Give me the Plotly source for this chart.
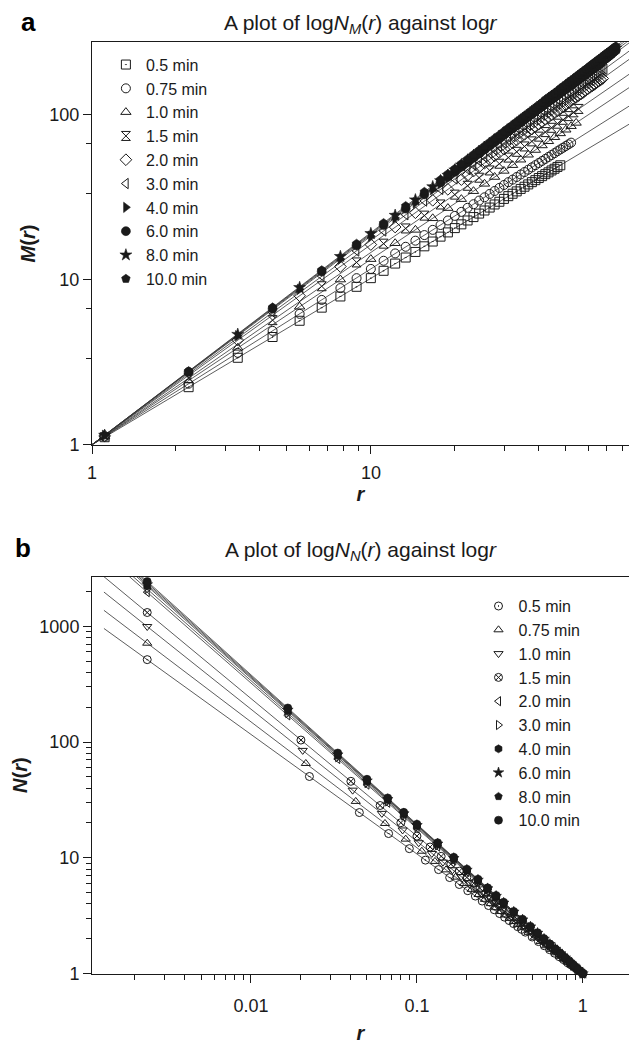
import numpy as np
import plotly.graph_objects as go

# ---------------- data ----------------
labels = ["0.5 min", "0.75 min", "1.0 min", "1.5 min", "2.0 min",
          "3.0 min", "4.0 min", "6.0 min", "8.0 min", "10.0 min"]

# Panel a : M(r) against r
a_r = [1.11, 2.22, 3.33, 4.44, 5.55, 6.66, 7.77, 8.88, 9.99, 11.1, 12.21, 13.32,
       14.43, 15.54, 16.65, 17.76, 18.87, 19.98, 21.09, 22.2, 23.31, 24.42, 25.53,
       26.64, 27.75, 28.86, 29.97, 31.08, 32.19, 33.3, 34.41, 35.52, 36.63, 37.74,
       38.85, 39.96, 41.07, 42.18, 43.29, 44.4, 45.51, 46.62, 47.73, 48.84, 49.95,
       51.06, 52.17, 53.28, 54.39, 55.5, 56.61, 57.72, 58.83, 59.94, 61.05, 62.16,
       63.27, 64.38, 65.49, 66.6, 67.71, 68.82, 69.93, 71.04, 72.15, 73.26, 74.37, 75.48]

a_M_05 = [1.11, 2.23, 3.36, 4.49, 5.63, 6.76, 7.90, 9.04, 10.2, 11.3, 12.5, 13.6, 14.7,
          15.9, 17.0, 18.2, 19.3, 20.5, 21.6, 22.8, 23.9, 25.1, 26.2, 27.3, 28.5, 29.6,
          30.8, 32.0, 33.1, 34.2, 35.4, 36.5, 37.7, 38.9, 40.0, 41.2, 42.3, 43.5, 44.6,
          45.8, 46.9, 48.1, 49.2]
a_M_075 = [1.12, 2.34, 3.60, 4.89, 6.20, 7.53, 8.88, 10.2, 11.6, 13.0, 14.4, 15.8, 17.2,
           18.6, 20.0, 21.4, 22.8, 24.3, 25.7, 27.2, 28.6, 30.1, 31.5, 33.0, 34.4, 35.9,
           37.4, 38.9, 40.3, 41.8, 43.3, 44.8, 46.3, 47.8, 49.3, 50.8, 52.3, 53.8, 55.3,
           56.8, 58.3, 59.9, 61.4, 62.9, 64.4, 65.9, 67.5]
a_M_10 = [1.12, 3.86, 6.85, 10.0, 13.3, 16.6, 20.0, 23.5, 27.1, 30.7, 34.3, 38.0, 41.8,
          45.5, 49.3, 53.2, 57.0, 60.9, 64.9, 68.8, 72.8, 76.8, 80.8, 84.9, 88.9]
a_M_15 = [2.53, 5.68, 9.11, 12.7, 16.5, 20.4, 24.4, 28.5, 32.7, 37.0, 41.4, 45.8, 50.3,
          54.8, 59.4, 64.0, 68.7, 73.4, 78.2, 83.0, 87.9, 92.8, 97.7, 103, 108]
a_M_20 = [1.13, 4.30, 7.98, 12.0, 16.3, 20.8, 25.4, 30.2, 35.2, 40.3, 45.4, 50.7, 56.1,
          61.6, 67.2, 72.9, 78.6, 84.4, 90.3, 96.2, 102, 108, 114, 121, 127, 133, 140,
          146, 152, 159, 165]
a_M_20b = [42.8, 48.1, 53.4, 58.9, 64.4, 70.0, 75.7, 81.5, 87.3, 93.3, 99.2, 105, 111,
           118, 124, 130, 136, 143, 149, 156, 162]
a_M_30 = [2.68, 6.33, 10.5, 14.9, 19.7, 24.7, 29.9, 35.2, 40.7, 46.4, 52.2, 58.2, 64.2,
          70.4, 76.7, 83.1, 89.5, 96.1, 103, 110, 116, 123, 130, 137, 144, 152, 159, 166,
          173, 181, 188]
a_M_30b = [49.3, 55.2, 61.2, 67.3, 73.6, 79.9, 86.3, 92.8, 99.5, 106, 113, 120, 127, 134,
           141, 148, 155, 162, 170, 177, 185]
a_M_40 = [1.14, 4.57, 8.73, 13.3, 18.3, 23.6, 29.2, 35.0, 41.0, 47.2, 53.5, 60.1, 66.7,
          73.5, 80.5, 87.6, 94.8, 102, 110, 117, 125, 132, 140, 148, 156, 164, 172, 181,
          189, 198, 206, 215, 223]
a_M_40b = [38.0, 44.1, 50.3, 56.8, 63.4, 70.1, 77.0, 84.0, 91.2, 98.4, 106, 113, 121,
           128.5, 136, 144, 152, 160, 168, 177, 185, 193, 202, 210, 219, 228]
a_M_60 = [2.76, 6.66, 11.2, 16.1, 21.4, 26.9, 32.8, 38.8, 45.1, 51.6, 58.2, 65.1, 72.0,
          79.1, 86.4, 93.8, 101, 109, 117, 125, 133, 141, 149, 157, 165, 174, 182, 191,
          200, 209, 218, 227, 236, 245]
a_M_60b = [42.0, 48.4, 54.9, 61.6, 68.5, 75.6, 82.8, 90.1, 97.5, 105, 113, 121, 129, 137,
           145, 153, 161, 170, 178, 187, 195.5, 204, 213, 222, 231, 240]
a_M_80 = [1.14, 4.66, 8.95, 13.8, 19.0, 24.5, 30.4, 36.5, 42.8, 49.4, 56.1, 63.0, 70.1,
          77.4, 84.8, 92.3, 100, 108, 116, 124, 132, 140, 149, 157, 166, 175, 183, 192,
          201, 210, 219, 229, 238, 247]
a_M_80b = [39.7, 46.1, 52.7, 59.6, 66.6, 73.8, 81.1, 88.6, 96.2, 104, 112, 120, 128, 136,
           144.5, 153, 162, 170, 179, 188, 197, 206, 215, 224, 233, 243, 252]
a_M_100 = [2.79, 6.79, 11.4, 16.5, 22.0, 27.9, 34.0, 40.3, 46.9, 53.7, 60.7, 67.9, 75.2,
           82.8, 90.4, 98.3, 106, 114, 123, 131, 139, 148, 157, 165, 174, 183, 192, 202,
           211, 220, 230, 239, 249, 259]
a_M_100b = [43.6, 50.3, 57.2, 64.3, 71.6, 79.0, 86.6, 94.3, 102, 110, 118, 127, 135, 144,
            152, 161, 170, 179, 188, 197, 206, 216, 225, 235, 244, 254]

# Panel b : N(r) against r
b_r_05 = [0.00237, 0.0225, 0.045, 0.0675, 0.09, 0.1125, 0.135, 0.1575, 0.18, 0.2025,
          0.225, 0.2475, 0.27, 0.2925, 0.315, 0.3375, 0.36, 0.3825, 0.405, 0.4275, 0.45,
          0.495, 0.54, 0.585, 0.63, 0.675, 0.72, 0.765, 0.81, 0.855, 0.9, 0.945, 0.99]
b_N_05 = [515, 50.4, 24.6, 16.2, 12.0, 9.55, 7.91, 6.75, 5.88, 5.20, 4.67, 4.23, 3.87,
          3.56, 3.30, 3.07, 2.87, 2.70, 2.54, 2.41, 2.28, 2.07, 1.89, 1.74, 1.61, 1.50,
          1.40, 1.32, 1.24, 1.18, 1.12, 1.06, 1.01]
b_r_075 = [0.00237, 0.0214, 0.0428, 0.0642, 0.0856, 0.107, 0.1284, 0.1498, 0.1712,
           0.1926, 0.214, 0.2354, 0.2568, 0.2782, 0.2996, 0.321, 0.3424, 0.3638, 0.3852,
           0.4066, 0.428, 0.4708, 0.5136, 0.5564, 0.5992, 0.642, 0.6848, 0.7276, 0.7704,
           0.8132, 0.856, 0.8988, 0.9416, 0.9844]
b_N_075 = [714, 65.3, 30.7, 19.8, 14.5, 11.4, 9.31, 7.87, 6.81, 5.99, 5.34, 4.82, 4.38,
           4.02, 3.71, 3.44, 3.21, 3.00, 2.82, 2.66, 2.52, 2.27, 2.06, 1.89, 1.74, 1.62,
           1.51, 1.41, 1.33, 1.25, 1.18, 1.12, 1.07, 1.02]
b_r_10 = [0.00237, 0.0205, 0.041, 0.0615, 0.082, 0.1025, 0.123, 0.1435, 0.164, 0.1845,
          0.205, 0.2255, 0.246, 0.2665, 0.287, 0.3075, 0.328, 0.369, 0.41, 0.451, 0.492,
          0.533, 0.574, 0.615, 0.656, 0.697, 0.738, 0.779, 0.82, 0.861, 0.902, 0.943, 0.984]
b_N_10 = [995, 84.7, 38.4, 24.2, 17.4, 13.5, 10.9, 9.18, 7.88, 6.89, 6.11, 5.48, 4.96,
          4.53, 4.16, 3.85, 3.57, 3.12, 2.77, 2.48, 2.25, 2.05, 1.89, 1.74, 1.62, 1.51,
          1.41, 1.33, 1.25, 1.19, 1.13, 1.07, 1.02]
b_r_15 = [0.00237, 0.02, 0.04, 0.06, 0.08, 0.1, 0.12, 0.14, 0.16, 0.18, 0.2, 0.22, 0.24,
          0.26, 0.28, 0.3, 0.32, 0.36, 0.4, 0.44, 0.48, 0.52, 0.56, 0.6, 0.64, 0.68, 0.72,
          0.76, 0.8, 0.84, 0.88, 0.92, 0.96, 1.0]
b_N_15 = [1315, 104, 45.8, 28.3, 20.1, 15.4, 12.4, 10.3, 8.82, 7.67, 6.77, 6.04, 5.45,
          4.95, 4.54, 4.18, 3.87, 3.37, 2.97, 2.65, 2.39, 2.17, 1.99, 1.83, 1.70, 1.58,
          1.48, 1.39, 1.30, 1.23, 1.16, 1.10, 1.05, 1.00]
b_r_dark = [0.00237, 0.01667, 0.03333, 0.05, 0.06667, 0.08333, 0.1, 0.1333, 0.1667, 0.2,
            0.2333, 0.2667, 0.3, 0.3333, 0.3833, 0.4333, 0.4833, 0.5333, 0.5833, 0.6333,
            0.6833, 0.7333, 0.7833, 0.8333, 0.8833, 0.9333, 1.0]
b_N_20 = [1972, 170, 71.4, 42.9, 29.9, 22.6, 18.0, 12.5, 9.48, 7.54, 6.21, 5.25, 4.53,
          3.97, 3.33, 2.86, 2.49, 2.20, 1.97, 1.77, 1.61, 1.48, 1.36, 1.26, 1.17, 1.09, 1.00]
b_N_30 = [2094, 178, 73.9, 44.2, 30.7, 23.2, 18.4, 12.8, 9.65, 7.66, 6.30, 5.32, 4.59,
          4.01, 3.36, 2.88, 2.51, 2.21, 1.98, 1.78, 1.62, 1.48, 1.36, 1.26, 1.17, 1.09, 1.00]
b_N_40 = [2225, 185, 76.4, 45.6, 31.6, 23.8, 18.8, 13.1, 9.82, 7.79, 6.39, 5.39, 4.64,
          4.06, 3.40, 2.90, 2.53, 2.23, 1.99, 1.79, 1.63, 1.49, 1.37, 1.26, 1.17, 1.09, 1.00]
b_N_60 = [2293, 189, 77.8, 46.3, 32.0, 24.1, 19.1, 13.2, 9.91, 7.85, 6.44, 5.43, 4.67,
          4.08, 3.41, 2.92, 2.54, 2.24, 1.99, 1.79, 1.63, 1.49, 1.37, 1.26, 1.17, 1.09, 1.00]
b_N_80 = [2363, 193, 79.1, 47.0, 32.5, 24.4, 19.3, 13.3, 10.0, 7.91, 6.49, 5.47, 4.70,
          4.10, 3.43, 2.93, 2.55, 2.24, 2.00, 1.80, 1.63, 1.49, 1.37, 1.26, 1.17, 1.09, 1.00]
b_N_100 = [2435, 197, 80.4, 47.7, 32.9, 24.7, 19.5, 13.5, 10.1, 7.98, 6.53, 5.50, 4.73,
           4.13, 3.44, 2.94, 2.55, 2.25, 2.00, 1.80, 1.63, 1.49, 1.37, 1.27, 1.17, 1.09, 1.00]

# extent of the fitted regression lines
a_fit_span = [1.0, 100.0]
b_fit_span = [0.0013, 1.0]

# tick labels
a_xticks, a_xtext = [1, 10], ["1", "10"]
a_yticks, a_ytext = [1, 10, 100], ["1", "10", "100"]
b_xticks, b_xtext = [0.01, 0.1, 1], ["0.01", "0.1", "1"]
b_yticks, b_ytext = [1, 10, 100, 1000], ["1", "10", "100", "1000"]
a_xminor = [2, 3, 4, 5, 6, 7, 8, 9, 20, 30, 40, 50, 60, 70, 80]
a_yminor = [3.333, 6.667, 33.33, 66.67]
b_xminor = [0.002, 0.003, 0.004, 0.005, 0.006, 0.007, 0.008, 0.009,
            0.02, 0.03, 0.04, 0.05, 0.06, 0.07, 0.08, 0.09,
            0.2, 0.3, 0.4, 0.5, 0.6, 0.7, 0.8, 0.9]
b_yminor = [2, 3, 4, 5, 6, 7, 8, 9, 20, 30, 40, 50, 60, 70, 80, 90,
            200, 300, 400, 500, 600, 700, 800, 900, 2000]

# ---------------- styling ----------------
FONT = "Arial, 'Liberation Sans', Helvetica, sans-serif"
INK = "#1a1a1a"
W, H = 629, 1044


def pts(*pairs):
    """Pair each value list with its r list and merge them, sorted by r."""
    xs, ys = [], []
    for rr, vv in pairs:
        xs += list(rr[:len(vv)])
        ys += list(vv)
    order = np.argsort(xs)
    return [xs[i] for i in order], [ys[i] for i in order]


a_sets = [
    (pts((a_r, a_M_05)), "square-open-dot"),
    (pts((a_r, a_M_075)), "circle-open"),
    (pts((a_r[0::2], a_M_10)), "triangle-up-open"),
    (pts((a_r[1::2], a_M_15)), "hourglass-open"),
    (pts((a_r[0::2], a_M_20), (a_r[19::2], a_M_20b)), "diamond-open"),
    (pts((a_r[1::2], a_M_30), (a_r[20::2], a_M_30b)), "triangle-left-open"),
    (pts((a_r[0::2], a_M_40), (a_r[15::2], a_M_40b)), "triangle-right"),
    (pts((a_r[1::2], a_M_60), (a_r[16::2], a_M_60b)), "circle"),
    (pts((a_r[0::2], a_M_80), (a_r[15::2], a_M_80b)), "star"),
    (pts((a_r[1::2], a_M_100), (a_r[16::2], a_M_100b)), "pentagon"),
]
b_sets = [
    (pts((b_r_05, b_N_05)), "circle-open-dot"),
    (pts((b_r_075, b_N_075)), "triangle-up-open"),
    (pts((b_r_10, b_N_10)), "triangle-down-open"),
    (pts((b_r_15, b_N_15)), "circle-x-open"),
    (pts((b_r_dark, b_N_20)), "triangle-left-open"),
    (pts((b_r_dark, b_N_30)), "triangle-right-open"),
    (pts((b_r_dark, b_N_40)), "hexagon"),
    (pts((b_r_dark, b_N_60)), "star"),
    (pts((b_r_dark, b_N_80)), "pentagon"),
    (pts((b_r_dark, b_N_100)), "circle"),
]

fig = go.Figure()


def add_panel(sets, span, xa, ya, legend, msize):
    # regression lines (log-log least squares of each series)
    for (x, y), _ in sets:
        k, c = np.polyfit(np.log10(x), np.log10(y), 1)
        lx = np.asarray(span, dtype=float)
        fig.add_trace(go.Scatter(
            x=lx, y=10 ** (c + k * np.log10(lx)), mode="lines",
            line=dict(color="#333333", width=0.8), showlegend=False,
            hoverinfo="skip", xaxis=xa, yaxis=ya))
    # data markers
    for lab, ((x, y), sym) in zip(labels, sets):
        filled = not sym.endswith(("open", "open-dot"))
        fig.add_trace(go.Scatter(
            x=x, y=y, mode="markers", name=lab, legend=legend,
            marker=dict(symbol=sym, size=msize, color=INK,
                        line=dict(color=INK, width=0.6 if filled else 1)),
            cliponaxis=False, xaxis=xa, yaxis=ya))


add_panel(a_sets, a_fit_span, "x", "y", "legend", 9)
add_panel(b_sets, b_fit_span, "x2", "y2", "legend2", 8)

X0 = 87.7 / W


def axis(domain, rng, tickvals, ticktext, minor, anchor, title, standoff, mirror,
         labelgap=0):
    return dict(
        type="log", domain=domain, range=rng, anchor=anchor,
        showline=True, linecolor=INK, linewidth=1, mirror=mirror,
        showgrid=False, zeroline=False,
        ticks="outside", ticklen=8, tickwidth=1, tickcolor=INK,
        tickmode="array", tickvals=tickvals, ticktext=ticktext,
        ticklabelstandoff=labelgap,
        tickfont=dict(family=FONT, size=18, color=INK),
        minor=dict(ticks="outside", ticklen=5, tickwidth=1, tickcolor=INK,
                   tickmode="array", tickvals=minor, showgrid=False),
        title=dict(text=title, standoff=standoff,
                   font=dict(family=FONT, size=20, color=INK)),
    )


fig.update_layout(
    width=W, height=H,
    margin=dict(l=0, r=0, t=0, b=0),
    paper_bgcolor="white", plot_bgcolor="white",
    font=dict(family=FONT, color=INK),
    xaxis=axis([X0, 1.0], [0, 1.925], a_xticks, a_xtext, a_xminor, "y",
               "<b><i>r</i></b>", 2, True, labelgap=4),
    yaxis=axis([1 - 449 / H, 1 - 42.7 / H], [0, 2.437], a_yticks, a_ytext, a_yminor,
               "x", "<b><i>M</i>(<i>r</i>)</b>", 8, False),
    xaxis2=axis([X0, 1.0], [-2.958, 0.278], b_xticks, b_xtext, b_xminor, "y2",
                "<b><i>r</i></b>", 14, True, labelgap=8),
    yaxis2=axis([1 - 983 / H, 1 - 582.3 / H], [0, 3.428], b_yticks, b_ytext, b_yminor,
                "x2", "<b><i>N</i>(<i>r</i>)</b>", 6, False),
    legend=dict(x=101.7 / W, y=1 - 48.1 / H, xanchor="left", yanchor="top",
                bgcolor="rgba(0,0,0,0)", borderwidth=0, tracegroupgap=0,
                font=dict(family=FONT, size=16, color=INK)),
    legend2=dict(x=477.3 / W, y=1 - 594.8 / H, xanchor="left", yanchor="top",
                 bgcolor="rgba(0,0,0,0)", borderwidth=0, tracegroupgap=0,
                 font=dict(family=FONT, size=16, color=INK)),
    showlegend=True,
)

ann = dict(xref="paper", yref="paper", showarrow=False)
fig.add_annotation(text="<b>a</b>", x=14 / W, y=1 - 22 / H, xanchor="left",
                   yanchor="middle", font=dict(family=FONT, size=26, color="black"), **ann)
fig.add_annotation(text="A plot of log<i>N</i><sub><i>M</i></sub>(<i>r</i>) against log<i>r</i>",
                   x=(87.7 + 629) / 2 / W, y=1 - 24 / H, xanchor="center", yanchor="middle",
                   font=dict(family=FONT, size=21, color=INK), **ann)
fig.add_annotation(text="<b>b</b>", x=8 / W, y=1 - 553 / H, xanchor="left",
                   yanchor="middle", font=dict(family=FONT, size=26, color="black"), **ann)
fig.add_annotation(text="A plot of log<i>N</i><sub><i>N</i></sub>(<i>r</i>) against log<i>r</i>",
                   x=(87.7 + 629) / 2 / W, y=1 - 556 / H, xanchor="center", yanchor="middle",
                   font=dict(family=FONT, size=21, color=INK), **ann)

fig.write_html("out.html")
